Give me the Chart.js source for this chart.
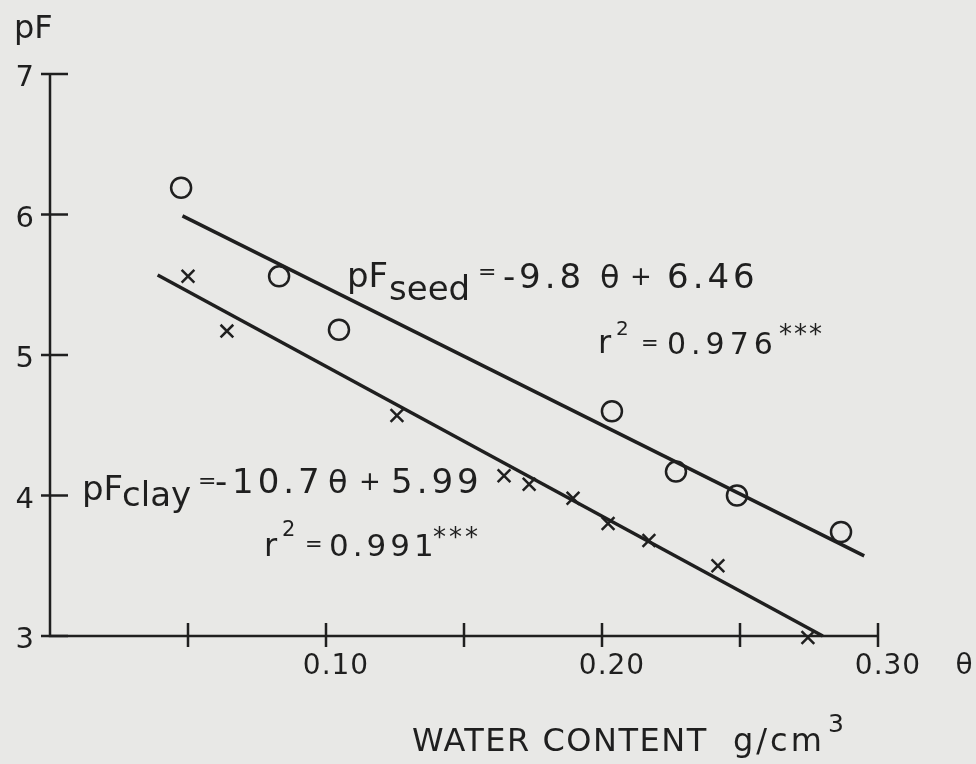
<!DOCTYPE html>
<html>
<head>
<meta charset="utf-8">
<script src="https://cdn.jsdelivr.net/npm/chart.js@4.4.1/dist/chart.umd.min.js"></script>
<style>
  html, body { margin: 0; padding: 0; background: #e8e8e6; }
  #wrap { width: 976px; height: 764px; }
</style>
</head>
<body>
<div id="wrap"><canvas id="pfChart" width="976" height="764"></canvas></div>
<script>
// seed (circles) and clay (crosses) measurements: water content θ vs pF
const seedTheta = [0.0475, 0.083, 0.1047, 0.2036, 0.2268, 0.2489, 0.2866];
const seedPF    = [6.19, 5.56, 5.18, 4.60, 4.17, 4.00, 3.74];
const clayTheta = [0.050, 0.0641, 0.1257, 0.1645, 0.1736, 0.1895, 0.2022, 0.217, 0.242, 0.2746];
const clayPF    = [5.56, 5.17, 4.57, 4.14, 4.08, 3.98, 3.80, 3.68, 3.50, 2.99];

// regression lines (end points)
const seedFitTheta = [0.048, 0.295];
const seedFitPF    = [5.99, 3.57];
const clayFitTheta = [0.039, 0.280];
const clayFitPF    = [5.57, 3.00];

const xTicks      = [0.05, 0.10, 0.15, 0.20, 0.25, 0.30];
const xTickLabels = ['', '0.10', '', '0.20', '', '0.30'];
const yTicks      = [3, 4, 5, 6, 7];
const yTickLabels = ['3', '4', '5', '6', '7'];

const INK = '#1f1f1f';
const FONT = '"DejaVu Sans", sans-serif';

const toPoints = (xs, ys) => xs.map((x, i) => ({ x: x, y: ys[i] }));

function drawRun(ctx, text, x, y, size, spacing) {
    ctx.font = size + 'px ' + FONT;
    ctx.letterSpacing = (spacing || 0) + 'px';
    ctx.fillText(text, x, y);
    ctx.letterSpacing = '0px';
}

const decor = {
    id: 'decor',
    afterDraw(chart) {
        const ctx = chart.ctx;
        const xs = chart.scales.x;
        const ys = chart.scales.y;
        const left = xs.getPixelForValue(0);
        const bottom = ys.getPixelForValue(3);
        const top = ys.getPixelForValue(7);
        const right = xs.getPixelForValue(0.30);

        ctx.save();
        ctx.strokeStyle = INK;
        ctx.fillStyle = INK;
        ctx.lineWidth = 2.5;
        ctx.lineCap = 'butt';

        // axes
        ctx.beginPath();
        ctx.moveTo(left, top);
        ctx.lineTo(left, bottom);
        ctx.lineTo(right, bottom);
        ctx.stroke();

        // x ticks (crossing the axis) + labels
        ctx.textAlign = 'center';
        ctx.textBaseline = 'alphabetic';
        xTicks.forEach((v, i) => {
            const px = xs.getPixelForValue(v);
            ctx.beginPath();
            ctx.moveTo(px, bottom - 13);
            ctx.lineTo(px, bottom + 11);
            ctx.stroke();
            if (xTickLabels[i]) drawRun(ctx, xTickLabels[i], px + 10, bottom + 38, 28, 1);
        });
        drawRun(ctx, 'θ', 964, bottom + 38, 28, 0);

        // y ticks + labels
        ctx.textAlign = 'right';
        yTicks.forEach((v, i) => {
            const py = ys.getPixelForValue(v);
            ctx.beginPath();
            ctx.moveTo(left - 9, py);
            ctx.lineTo(left + 18, py);
            ctx.stroke();
            drawRun(ctx, yTickLabels[i], 34, py + 12, 29, 0);
        });

        ctx.textAlign = 'left';
        drawRun(ctx, 'pF', 14, 38, 32, 0);

        // seed equation
        drawRun(ctx, 'pF', 347, 287, 34, 0);
        drawRun(ctx, 'seed', 389, 300, 34, 0);
        drawRun(ctx, '=', 478, 279, 22, 0);
        drawRun(ctx, '-', 503, 288, 34, 0);
        drawRun(ctx, '9.8', 519, 288, 34, 4);
        drawRun(ctx, 'θ', 600, 288, 32, 0);
        drawRun(ctx, '+', 630, 285, 26, 0);
        drawRun(ctx, '6.46', 667, 288, 34, 4);

        drawRun(ctx, 'r', 598, 353, 32, 0);
        drawRun(ctx, '2', 616, 335, 20, 0);
        drawRun(ctx, '=', 641, 350, 21, 0);
        drawRun(ctx, '0.976', 667, 354, 30, 5);
        drawRun(ctx, '***', 779, 343, 26, 2);

        // clay equation
        drawRun(ctx, 'pF', 82, 500, 34, 0);
        drawRun(ctx, 'clay', 122, 506, 34, 0);
        drawRun(ctx, '=', 198, 488, 22, 0);
        drawRun(ctx, '-', 215, 493, 34, 0);
        drawRun(ctx, '10.7', 232, 493, 34, 4);
        drawRun(ctx, 'θ', 328, 493, 32, 0);
        drawRun(ctx, '+', 359, 490, 26, 0);
        drawRun(ctx, '5.99', 391, 493, 34, 4);

        drawRun(ctx, 'r', 264, 556, 32, 0);
        drawRun(ctx, '2', 282, 536, 21, 0);
        drawRun(ctx, '=', 305, 551, 21, 0);
        drawRun(ctx, '0.991', 329, 556, 31, 4);
        drawRun(ctx, '***', 433, 546, 26, 3);

        // axis title
        drawRun(ctx, 'WATER CONTENT', 412, 751, 32, 1.5);
        drawRun(ctx, 'g/cm', 733, 751, 32, 3);
        drawRun(ctx, '3', 828, 732, 25, 0);

        ctx.restore();
    }
};

const ctx = document.getElementById('pfChart').getContext('2d');
new Chart(ctx, {
    type: 'scatter',
    data: {
        datasets: [
            {
                label: 'seed',
                data: toPoints(seedTheta, seedPF),
                pointStyle: 'circle',
                pointRadius: 10,
                pointBorderWidth: 2.5,
                borderColor: INK,
                backgroundColor: 'rgba(0,0,0,0)',
                clip: false
            },
            {
                label: 'clay',
                data: toPoints(clayTheta, clayPF),
                pointStyle: 'crossRot',
                pointRadius: 9,
                pointBorderWidth: 2.5,
                borderColor: INK,
                backgroundColor: INK,
                clip: false
            },
            {
                label: 'seed fit',
                data: toPoints(seedFitTheta, seedFitPF),
                showLine: true,
                pointRadius: 0,
                borderWidth: 3.5,
                borderColor: INK,
                clip: false
            },
            {
                label: 'clay fit',
                data: toPoints(clayFitTheta, clayFitPF),
                showLine: true,
                pointRadius: 0,
                borderWidth: 3.5,
                borderColor: INK,
                clip: false
            }
        ]
    },
    options: {
        responsive: false,
        animation: false,
        devicePixelRatio: 1,
        layout: { padding: { left: 50, right: 98, top: 74, bottom: 128 } },
        plugins: {
            legend: { display: false },
            tooltip: { enabled: false }
        },
        scales: {
            x: { type: 'linear', min: 0, max: 0.30, display: false },
            y: { type: 'linear', min: 3, max: 7, display: false }
        }
    },
    plugins: [decor]
});
</script>
</body>
</html>
